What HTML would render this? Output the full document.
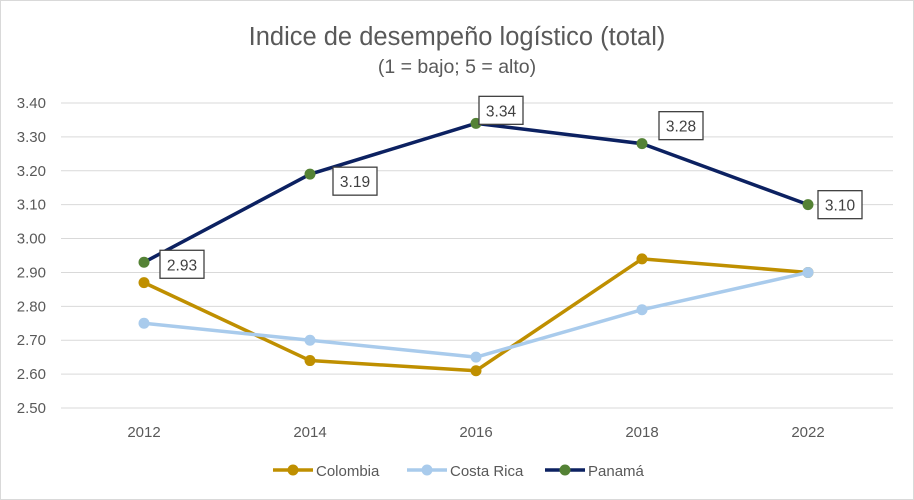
<!DOCTYPE html>
<html><head><meta charset="utf-8"><style>
body{margin:0;background:#fff}
svg{display:block;font-family:"Liberation Sans",sans-serif}
</style></head><body>
<svg id="c" width="914" height="500">
<rect x="0.5" y="0.5" width="913" height="499" fill="#fff" stroke="#d9d9d9"/>
<text x="457" y="45" text-anchor="middle" font-size="25.5" fill="#595959">Indice de desempeño logístico (total)</text>
<text x="457" y="73" text-anchor="middle" font-size="19.5" fill="#595959">(1 = bajo; 5 = alto)</text>
<g id="grid"></g><g id="series"></g><g id="labels"></g>
<g id="legend"></g>
</svg>
<script>
const categories=["2012","2014","2016","2018","2022"];
const colombia=[2.87,2.64,2.61,2.94,2.90];
const costaRica=[2.75,2.70,2.65,2.79,2.90];
const panama=[2.93,3.19,3.34,3.28,3.10];
const yTicks=[2.5,2.6,2.7,2.8,2.9,3.0,3.1,3.2,3.3,3.4];
const NS="http://www.w3.org/2000/svg";
const x0=144,dx=166,yMin=2.5,yMax=3.4,py0=408,py1=103;
const X=i=>x0+i*dx;
const Y=v=>py0-(v-yMin)/(yMax-yMin)*(py0-py1);
function mk(t,a,p){const e=document.createElementNS(NS,t);for(const k in a)e.setAttribute(k,a[k]);p.appendChild(e);return e;}
const grid=document.getElementById('grid');
yTicks.forEach(v=>{
 const l=mk('line',{x1:61,x2:893,y1:Y(v),y2:Y(v),stroke:'#d9d9d9','stroke-width':1},grid);
 
 
 const t=mk('text',{x:46,y:Y(v)+5,'text-anchor':'end','font-size':15,fill:'#595959'},grid);
 t.textContent=v.toFixed(2);
 
 
});
categories.forEach((c,i)=>{
 const t=mk('text',{x:X(i),y:437,'text-anchor':'middle','font-size':15,fill:'#595959'},grid);
 t.textContent=c;
 
 
});
const ser=document.getElementById('series');
function draw(vals,line,dot,name){
 const g=mk('g',{},ser);
 
 
 const p=mk('polyline',{points:vals.map((v,i)=>X(i)+','+Y(v)).join(' '),fill:'none',stroke:line,'stroke-width':3.5,'stroke-linejoin':'round'},g);
 
 
 vals.forEach((v,i)=>{
  const c=mk('circle',{cx:X(i),cy:Y(v),r:5.5,fill:dot},g);
  
  
 });
}
draw(colombia,'#bf8f00','#bf8f00','colombia');
draw(costaRica,'#a9cbec','#a9cbec','costa-rica');
draw(panama,'#0c2161','#548235','panama');
const offs=[[16,-12],[23,-7],[3,-27],[17,-32],[10,-14]];
const lab=document.getElementById('labels');
panama.forEach((v,i)=>{
 const bx=X(i)+offs[i][0],by=Y(v)+offs[i][1];
 const r=mk('rect',{x:bx,y:by,width:44,height:28,fill:'#fff',stroke:'#404040','stroke-width':1.3},lab);
 
 
 const t=mk('text',{x:bx+22,y:by+20,'text-anchor':'middle','font-size':15.5,fill:'#404040'},lab);
 t.textContent=v.toFixed(2);
 
 
});
const leg=document.getElementById('legend');
[["Colombia",'#bf8f00','#bf8f00',273],["Costa Rica",'#a9cbec','#a9cbec',407],["Panamá",'#0c2161','#548235',545]].forEach(e=>{
 const g=mk('g',{},leg);
 
 
 mk('line',{x1:e[3],x2:e[3]+40,y1:470,y2:470,stroke:e[1],'stroke-width':3.5},g);
 mk('circle',{cx:e[3]+20,cy:470,r:5.5,fill:e[2]},g);
 const t=mk('text',{x:e[3]+43,y:476,'font-size':15,fill:'#595959'},g);
 t.textContent=e[0];
});
</script>
</body></html>
